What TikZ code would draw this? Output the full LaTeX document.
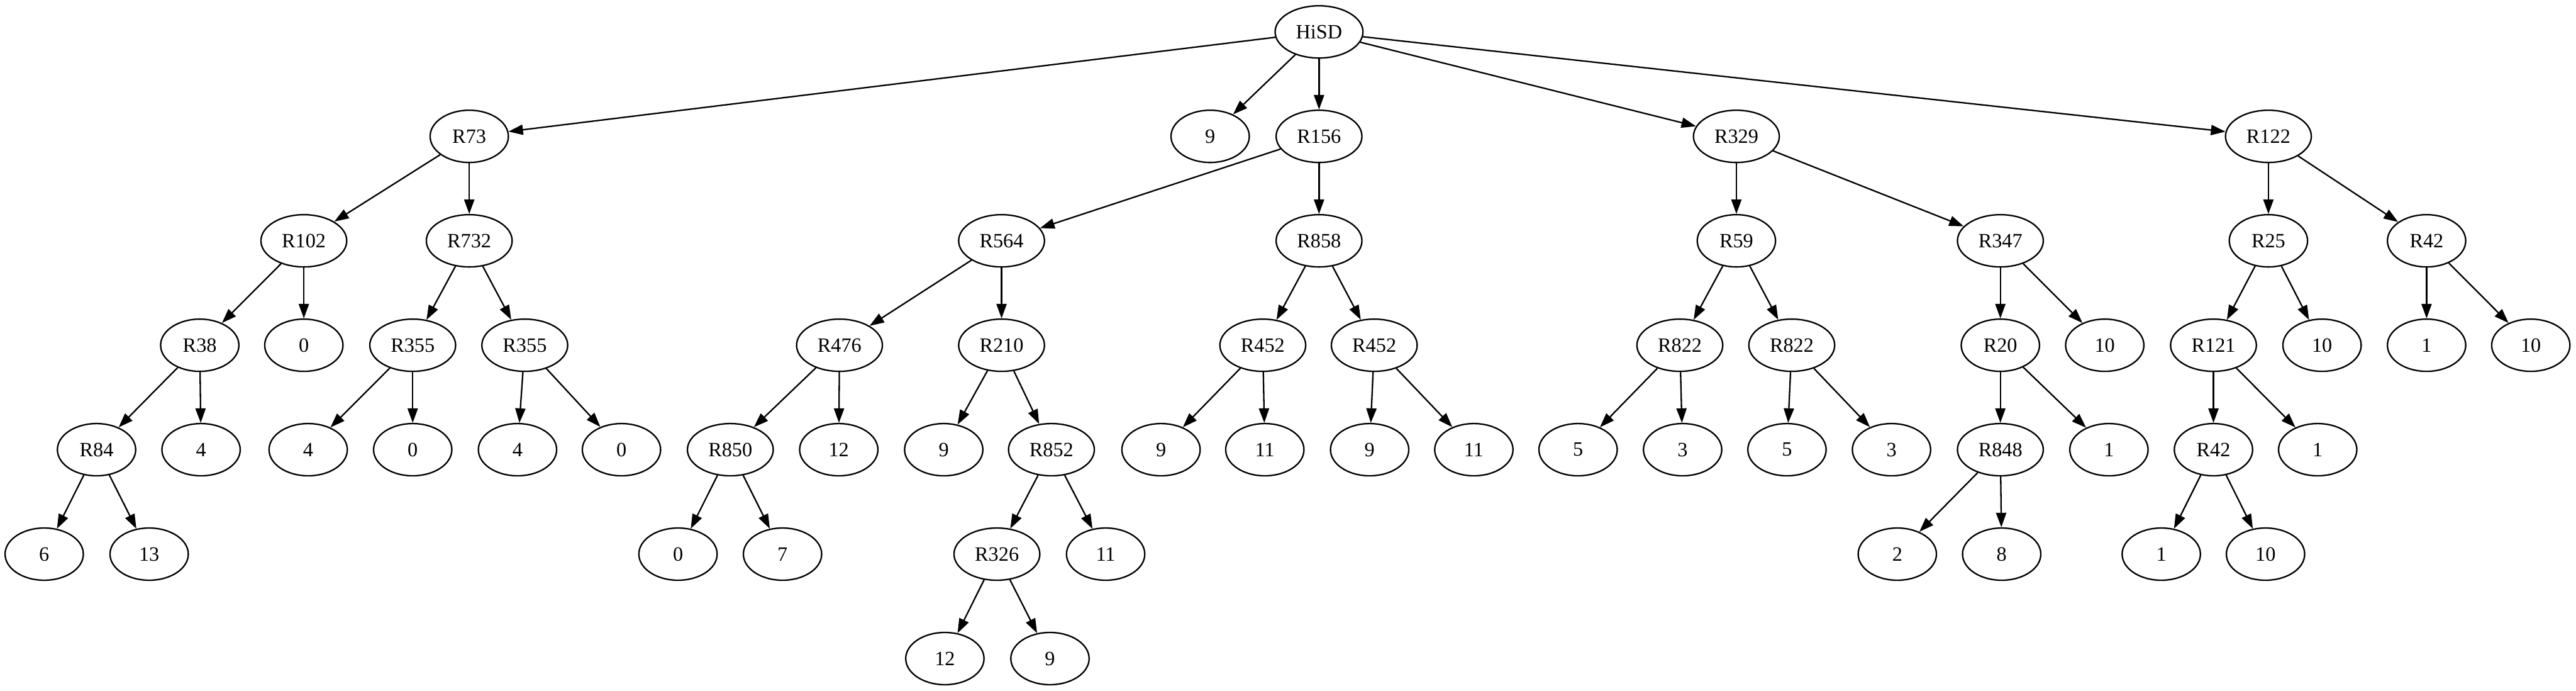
\documentclass[tikz,border=0pt]{standalone}
\usepackage{fontspec}
\setmainfont{Liberation Serif}
\usetikzlibrary{shapes.geometric,arrows.meta}
\begin{document}
\begin{tikzpicture}[x=1pt,y=-1pt,
  gnode/.style={ellipse,draw,line width=1pt,inner sep=0pt,minimum width=54pt,minimum height=36pt,font=\fontsize{14}{16.8}\selectfont},
  wide/.style={gnode,minimum width=59.2pt},
  widest/.style={gnode,minimum width=60.6pt},
  link/.style={-{Triangle[length=10pt,width=7pt]},line width=1pt}]
\useasboundingbox (0,0) rectangle (1777,476);
% row 1
\node[widest] (hisd) at (909.9,22) {HiSD};
% row 2
\node[gnode] (r73) at (323.7,94) {R73};
\node[gnode] (n9a) at (834.8,94) {9};
\node[wide] (r156) at (909.9,94) {R156};
\node[wide] (r329) at (1197.8,94) {R329};
\node[wide] (r122) at (1564.8,94) {R122};
% row 3
\node[wide] (r102) at (209.6,166) {R102};
\node[wide] (r732) at (323.7,166) {R732};
\node[wide] (r564) at (690.9,166) {R564};
\node[wide] (r858) at (909.9,166) {R858};
\node[gnode] (r59) at (1197.8,166) {R59};
\node[wide] (r347) at (1379.9,166) {R347};
\node[gnode] (r25) at (1564.8,166) {R25};
\node[gnode] (r42a) at (1673.9,166) {R42};
% row 4
\node[gnode] (r38) at (137.8,238) {R38};
\node[gnode] (n0a) at (209.6,238) {0};
\node[wide] (r355a) at (284.7,238) {R355};
\node[wide] (r355b) at (362,238) {R355};
\node[wide] (r476) at (579.1,238) {R476};
\node[wide] (r210) at (690.9,238) {R210};
\node[wide] (r452a) at (871.1,238) {R452};
\node[wide] (r452b) at (948,238) {R452};
\node[wide] (r822a) at (1158.8,238) {R822};
\node[wide] (r822b) at (1236,238) {R822};
\node[gnode] (r20) at (1379.9,238) {R20};
\node[gnode] (n10a) at (1451.9,238) {10};
\node[wide] (r121) at (1526.9,238) {R121};
\node[gnode] (n10b) at (1601.8,238) {10};
\node[gnode] (n1a) at (1673.9,238) {1};
\node[gnode] (n10c) at (1745.8,238) {10};
% row 5
\node[gnode] (r84) at (66.6,310) {R84};
\node[gnode] (n4a) at (138.7,310) {4};
\node[gnode] (n4b) at (212.6,310) {4};
\node[gnode] (n0b) at (284.7,310) {0};
\node[gnode] (n4c) at (357,310) {4};
\node[gnode] (n0c) at (428.7,310) {0};
\node[wide] (r850) at (503.8,310) {R850};
\node[gnode] (n12a) at (578.6,310) {12};
\node[gnode] (n9b) at (651,310) {9};
\node[wide] (r852) at (725.3,310) {R852};
\node[gnode] (n9c) at (800.9,310) {9};
\node[gnode] (n11a) at (872.5,310) {11};
\node[gnode] (n9d) at (944.8,310) {9};
\node[gnode] (n11b) at (1016.7,310) {11};
\node[gnode] (n5a) at (1088.6,310) {5};
\node[gnode] (n3a) at (1160.7,310) {3};
\node[gnode] (n5b) at (1232.7,310) {5};
\node[gnode] (n3b) at (1304.8,310) {3};
\node[wide] (r848) at (1379.9,310) {R848};
\node[gnode] (n1b) at (1454.8,310) {1};
\node[gnode] (r42b) at (1526.9,310) {R42};
\node[gnode] (n1c) at (1598.8,310) {1};
% row 6
\node[gnode] (n6) at (30.5,382) {6};
\node[gnode] (n13) at (102.9,382) {13};
\node[gnode] (n0d) at (467.7,382) {0};
\node[gnode] (n7) at (539.8,382) {7};
\node[wide] (r326) at (687.7,382) {R326};
\node[gnode] (n11c) at (762.7,382) {11};
\node[gnode] (n2) at (1308.8,382) {2};
\node[gnode] (n8) at (1380.8,382) {8};
\node[gnode] (n1d) at (1490.9,382) {1};
\node[gnode] (n10d) at (1562.8,382) {10};
% row 7
\node[gnode] (n12b) at (651.8,454) {12};
\node[gnode] (n9e) at (724.3,454) {9};
% edges
\foreach \a/\b in {hisd/r73,hisd/n9a,hisd/r156,hisd/r329,hisd/r122,
  r73/r102,r73/r732,r102/r38,r102/n0a,r38/r84,r38/n4a,r84/n6,r84/n13,
  r732/r355a,r732/r355b,r355a/n4b,r355a/n0b,r355b/n4c,r355b/n0c,
  r156/r564,r156/r858,r564/r476,r564/r210,r476/r850,r476/n12a,r850/n0d,r850/n7,
  r210/n9b,r210/r852,r852/r326,r852/n11c,r326/n12b,r326/n9e,
  r858/r452a,r858/r452b,r452a/n9c,r452a/n11a,r452b/n9d,r452b/n11b,
  r329/r59,r329/r347,r59/r822a,r59/r822b,r822a/n5a,r822a/n3a,r822b/n5b,r822b/n3b,
  r347/r20,r347/n10a,r20/r848,r20/n1b,r848/n2,r848/n8,
  r122/r25,r122/r42a,r25/r121,r25/n10b,r121/r42b,r121/n1c,r42b/n1d,r42b/n10d,
  r42a/n1a,r42a/n10c}
  \draw[link] (\a) -- (\b);
\end{tikzpicture}
\end{document}
